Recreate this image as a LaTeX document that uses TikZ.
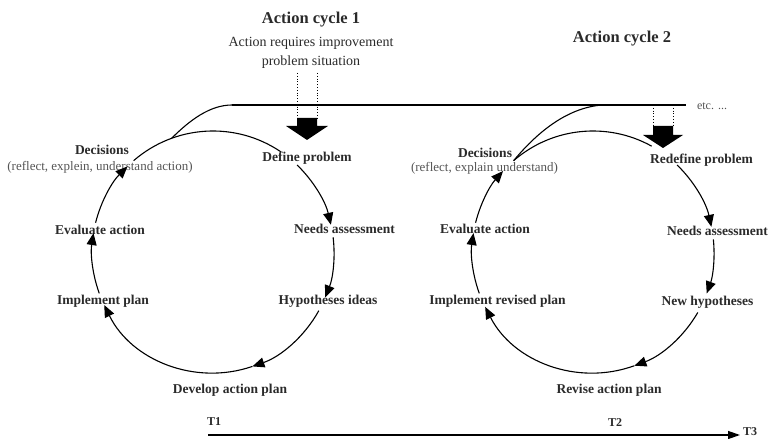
\documentclass[tikz,border=0pt]{standalone}
\usepackage{fontspec}
\setmainfont{Liberation Serif}
\usetikzlibrary{arrows.meta}
\definecolor{ink}{HTML}{2A2A2A}
\definecolor{note}{HTML}{555555}
\begin{document}
\begin{tikzpicture}[x=1pt,y=1pt,
  stage/.style={font=\bfseries\fontsize{13.5}{16}\selectfont, text=ink, inner sep=0pt},
  remark/.style={font=\fontsize{13}{15}\selectfont, text=note, inner sep=0pt},
  plain/.style={font=\fontsize{14}{19}\selectfont, text=ink, inner sep=0pt, align=center},
  heading/.style={font=\bfseries\fontsize{16.5}{19}\selectfont, text=ink, inner sep=0pt},
  tick/.style={font=\bfseries\fontsize{12}{14}\selectfont, text=ink, inner sep=0pt},
  flow/.style={line width=1.1pt, -{Triangle[length=12pt,width=10pt]}},
  rim/.style={line width=1.1pt},
  feed/.style={line width=0.8pt, dotted},
  entry/.style={fill=black}
]
\useasboundingbox (0,0) rectangle (771,439);

% ---------- headings ----------
\node[heading] (title1) at (311,419) {Action cycle 1};
\node[plain]   (trigger) at (311,386.5) {Action requires improvement\\problem situation};
\node[heading] (title2) at (622,400) {Action cycle 2};

% ---------- shared top rail ----------
\coordinate (railL) at (232,334);
\coordinate (railR) at (686,334);
\draw[rim] (railL) -- (railR);
\node[remark, font=\fontsize{12}{14}\selectfont] (etc) at (712,333) {etc. ...};

% ---------- cycle 1 ----------
\coordinate (c1) at (213,187);
\node[stage]  (dec1)  at (102,289) {Decisions};
\node[remark] (dec1n) at (100,272) {(reflect, explein, understand action)};
\node[stage]  (def1)  at (307,281) {Define problem};
\node[stage]  (need1) at (344.5,210) {Needs assessment};
\node[stage]  (hyp1)  at (328,138) {Hypotheses ideas};
\node[stage]  (dev1)  at (230,49) {Develop action plan};
\node[stage]  (imp1)  at (103,138) {Implement plan};
\node[stage]  (eva1)  at (100,209) {Evaluate action};

\draw[rim] (c1) ++(131:121) coordinate (d1) arc[start angle=131, end angle=56, radius=121];
\foreach \s/\e in {46/13, 7/-22, -29/-71, -71/-154, -160/-189, -194/-225}
  \draw[flow] (c1) ++(\s:121) arc[start angle=\s, end angle=\e, radius=121];
\draw[rim] (c1) ++(110:121) coordinate (b1) .. controls (190,319) and (210,334) .. (railL);

% entry arrow into cycle 1
\draw[feed] (297,366) -- (297,321);
\draw[feed] (317,366) -- (317,321);
\fill[entry] (297,321) -- (317,321) -- (317,313) -- (328,313) -- (307,299)
  -- (286,313) -- (297,313) -- cycle;

% ---------- cycle 2 ----------
\coordinate (c2) at (593,187);
\node[stage]  (dec2)  at (485,286) {Decisions};
\node[remark] (dec2n) at (484.5,271) {(reflect, explain understand)};
\node[stage]  (def2)  at (701.5,279) {Redefine problem};
\node[stage]  (need2) at (717.5,208) {Needs assessment};
\node[stage]  (hyp2)  at (707.5,137) {New hypotheses};
\node[stage]  (dev2)  at (609,49) {Revise action plan};
\node[stage]  (imp2)  at (497.5,138) {Implement revised plan};
\node[stage]  (eva2)  at (485,210) {Evaluate action};

\draw[rim] (c2) ++(131:121) coordinate (d2) arc[start angle=131, end angle=61, radius=121];
\foreach \s/\e in {46/12, 6/-20, -30/-70, -70/-153, -160/-189, -194/-222}
  \draw[flow] (c2) ++(\s:121) arc[start angle=\s, end angle=\e, radius=121];
\draw[rim] (d2) .. controls (535,304) and (565,331) .. (602,334) coordinate (b2);

% entry arrow into cycle 2
\draw[feed] (653,334) -- (653,313);
\draw[feed] (673,334) -- (673,313);
\fill[entry] (653,313) -- (673,313) -- (673,304) -- (683,304) -- (663,291)
  -- (643,304) -- (653,304) -- cycle;

% ---------- time axis ----------
\coordinate (t0) at (208,4);
\coordinate (t1) at (740,4);
\draw[line width=1.3pt, -{Triangle[length=12pt,width=8pt]}] (t0) -- (t1);
\node[tick] (T1) at (214,17) {T1};
\node[tick] (T2) at (615,16) {T2};
\node[tick, anchor=west] (T3) at (743,7) {T3};
\end{tikzpicture}
\end{document}
